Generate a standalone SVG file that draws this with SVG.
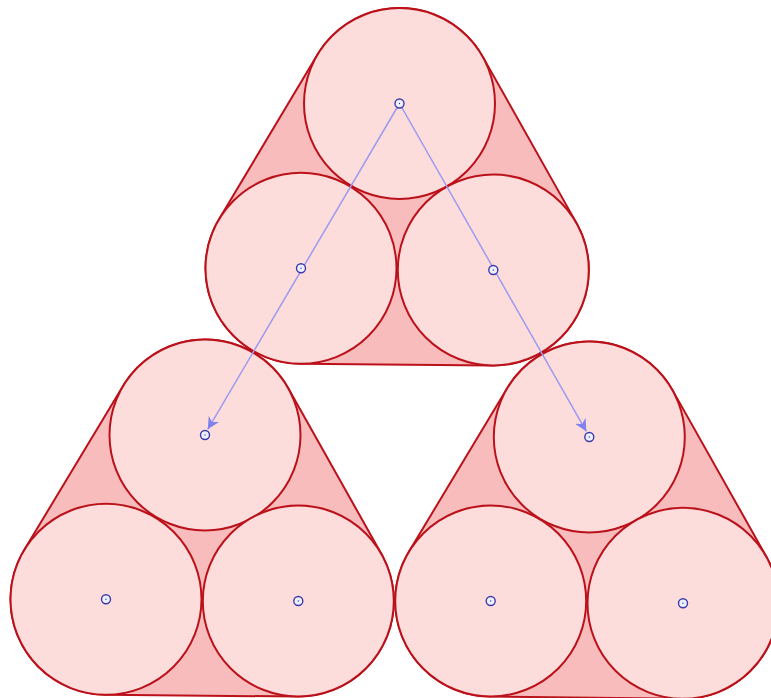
<svg xmlns="http://www.w3.org/2000/svg" width="771" height="698" viewBox="0 0 771 698">
<style>
.hull{fill:#f9bcbc;stroke:#bb111a;stroke-width:2;stroke-linejoin:round}
.disc{fill:#fddcdc;stroke:#bb111a;stroke-width:2}
.pt{fill:#eef0ff;stroke:#3a3aaa;stroke-width:1.4}
.dot{fill:#3a3aaa}
.conn{stroke:#9a9af0;stroke-width:1.5;fill:none}
</style>
<defs>
<marker id="ah" viewBox="0 0 10 10" refX="10" refY="5" markerWidth="12" markerHeight="12" markerUnits="userSpaceOnUse" orient="auto">
<path d="M0,0 L10,5 L0,10 L3,5 Z" fill="#8080ee"/>
</marker>
</defs>
<g id="cluster-top">
<path class="hull" d="M317.53,54.51 A95.5 95.5 0 0 1 482.71,56.63 L576.51,223.13 A95.5 95.5 0 0 1 492.46,365.5 L300.16,363.8 A95.5 95.5 0 0 1 219.03,219.31 Z"/>
<g id="t1"><circle class="disc" cx="399.5" cy="103.5" r="95.5"/></g>
<g id="t2"><circle class="disc" cx="301" cy="268.3" r="95.5"/></g>
<g id="t3"><circle class="disc" cx="493.3" cy="270" r="95.5"/></g>
</g>
<g id="cluster-left">
<path class="hull" d="M123.2,385.71 A95.5 95.5 0 0 1 288.26,388.2 L381.56,554.2 A95.5 95.5 0 0 1 297.46,696.5 L105.16,694.8 A95.5 95.5 0 0 1 24.2,550.01 Z"/>
<g id="l1"><circle class="disc" cx="205" cy="435" r="95.5"/></g>
<g id="l2"><circle class="disc" cx="106" cy="599.3" r="95.5"/></g>
<g id="l3"><circle class="disc" cx="298.3" cy="601" r="95.5"/></g>
</g>
<g id="cluster-right">
<path class="hull" d="M507.46,387.79 A95.5 95.5 0 0 1 672.5,390.12 L766.2,556.42 A95.5 95.5 0 0 1 681.86,698.79 L489.56,696.49 A95.5 95.5 0 0 1 408.86,551.79 Z"/>
<g id="r1"><circle class="disc" cx="589.3" cy="437" r="95.5"/></g>
<g id="r2"><circle class="disc" cx="490.7" cy="601" r="95.5"/></g>
<g id="r3"><circle class="disc" cx="683" cy="603.3" r="95.5"/></g>
</g>
<g id="connectors">
<line class="conn" x1="399.5" y1="103.5" x2="207.8" y2="429.3" marker-end="url(#ah)"/>
<line class="conn" x1="399.5" y1="103.5" x2="586.3" y2="431.3" marker-end="url(#ah)"/>
</g>
<g id="centers">
<circle class="pt" cx="399.5" cy="103.5" r="4.5"/><circle class="dot" cx="399.5" cy="103.5" r="0.7"/>
<circle class="pt" cx="301" cy="268.3" r="4.5"/><circle class="dot" cx="301" cy="268.3" r="0.7"/>
<circle class="pt" cx="493.3" cy="270" r="4.5"/><circle class="dot" cx="493.3" cy="270" r="0.7"/>
<circle class="pt" cx="205" cy="435" r="4.5"/><circle class="dot" cx="205" cy="435" r="0.7"/>
<circle class="pt" cx="106" cy="599.3" r="4.5"/><circle class="dot" cx="106" cy="599.3" r="0.7"/>
<circle class="pt" cx="298.3" cy="601" r="4.5"/><circle class="dot" cx="298.3" cy="601" r="0.7"/>
<circle class="pt" cx="589.3" cy="437" r="4.5"/><circle class="dot" cx="589.3" cy="437" r="0.7"/>
<circle class="pt" cx="490.7" cy="601" r="4.5"/><circle class="dot" cx="490.7" cy="601" r="0.7"/>
<circle class="pt" cx="683" cy="603.3" r="4.5"/><circle class="dot" cx="683" cy="603.3" r="0.7"/>
</g>
</svg>
